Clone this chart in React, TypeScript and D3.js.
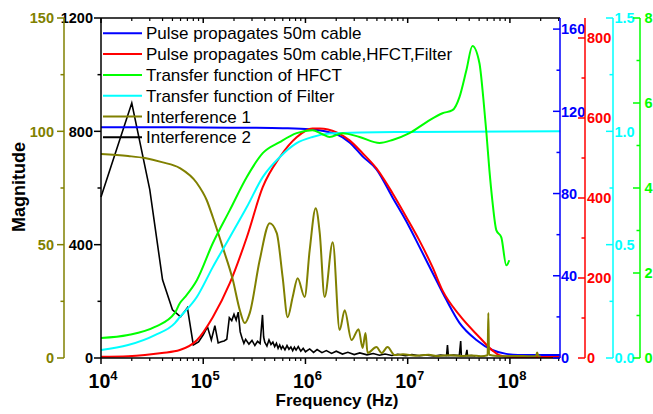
import * as d3 from 'd3'

// frequency axis (Hz), log scale
const FREQ_DOMAIN = [1e4, 10 ** 8.49]
const freqMajor = [1e4, 1e5, 1e6, 1e7, 1e8]
const freqExp = ['4', '5', '6', '7', '8']

// y axes: domains and tick labels
const oliveDomain = [0, 150], oliveTicks = [0, 50, 100, 150], oliveMinor = [25, 75, 125]
const blackDomain = [0, 1200], blackTicks = [0, 400, 800, 1200], blackMinor = [200, 600, 1000]
const blueDomain = [0, 165.4], blueTicks = [0, 40, 80, 120, 160], blueMinor = [20, 60, 100, 140]
const redDomain = [0, 850], redTicks = [0, 200, 400, 600, 800], redMinor = [100, 300, 500, 700]
const cyanDomain = [0, 1.5], cyanTicks = [0, 0.5, 1.0, 1.5], cyanMinor = [0.25, 0.75, 1.25]
const greenDomain = [0, 8], greenTicks = [0, 2, 4, 6, 8], greenMinor = [1, 3, 5, 7]

// series: [frequency Hz, value]
const pulseCable: [number, number][] = [
  [1e4, 112.3], [3e4, 112.3], [1e5, 112.1], [3e5, 112], [6e5, 111.8], [1.1e6, 111.3],
  [2.02e6, 108.8], [2.7e6, 104.9], [3.62e6, 98.1], [4.95e6, 91.8], [7.11e6, 78.1],
  [9.72e6, 66.4], [1.3e7, 54.2], [1.75e7, 41.5], [2.39e7, 28.3], [3.21e7, 17.1],
  [4.7e7, 8.8], [6.73e7, 3.9], [9.2e7, 2], [1.2e8, 1.5], [3.1e8, 1.5],
]
const pulseFiltered: [number, number][] = [
  [1e4, 3], [1.84e4, 4.5], [2.69e4, 7.5], [3.94e4, 12.5], [5.9e4, 20], [8.66e4, 44.5],
  [1.24e5, 102], [1.82e5, 187], [2.67e5, 302], [3.82e5, 427], [5.6e5, 502], [8.2e5, 552],
  [1.17e6, 574], [1.38e6, 574], [2.02e6, 564], [2.7e6, 544], [3.62e6, 512], [4.95e6, 474],
  [7.11e6, 412], [9.72e6, 352], [1.3e7, 294], [1.75e7, 227], [2.19e7, 169], [3.21e7, 107],
  [5.03e7, 52], [6.73e7, 19], [7.87e7, 7], [1.05e8, 2.5], [3.1e8, 2.5],
]
const hfct: [number, number][] = [
  [1e4, 0.47], [1.84e4, 0.54], [3.37e4, 0.73], [5.28e4, 1.06], [5.9e4, 1.29], [6.61e4, 1.43],
  [8.66e4, 1.83], [1.24e5, 2.7], [1.82e5, 3.48], [2.67e5, 4.26], [3.82e5, 4.82], [5.6e5, 5.08],
  [8.2e5, 5.29], [1.17e6, 5.36], [1.45e6, 5.27], [1.72e6, 5.2], [2.31e6, 5.29], [3.38e6, 5.2],
  [5.31e6, 5.06], [7.11e6, 5.13], [1.04e7, 5.29], [1.53e7, 5.55], [2.19e7, 5.76], [2.74e7, 5.83],
  [3.21e7, 6.14], [3.75e7, 6.77], [4.3e7, 7.34], [5.03e7, 6.94], [5.5e7, 6.1], [5.89e7, 5.3],
  [6.3e7, 4.42], [6.73e7, 3.71], [7.36e7, 3.01], [8.24e7, 2.84], [9.22e7, 2.18], [9.86e7, 2.3],
]
const filter: [number, number][] = [
  [1e4, 0.035], [1.84e4, 0.057], [3.37e4, 0.101], [5.28e4, 0.154], [5.9e4, 0.18],
  [8.66e4, 0.269], [1.24e5, 0.401], [1.82e5, 0.533], [2.67e5, 0.666], [3.82e5, 0.798],
  [5.6e5, 0.886], [8.2e5, 0.948], [1.17e6, 0.975], [1.72e6, 0.99], [3.38e6, 0.995],
  [1.04e7, 0.997], [3.1e8, 1.0],
]
const interference1: [number, number][] = [
  [1e4, 90], [1.84e4, 89.1], [2.69e4, 88.2], [3.94e4, 86.4], [5.9e4, 83.8], [8.66e4, 77.2],
  [1.08e5, 69.7], [1.24e5, 62.2], [1.55e5, 48.9], [1.95e5, 34.4], [2.28e5, 21.1], [2.55e5, 15.4],
  [2.85e5, 19.8], [3.57e5, 43.2], [4.47e5, 59.5], [5.24e5, 55.1], [5.98e5, 35.7], [6.7e5, 18],
  [7.5e5, 26.9], [8.39e5, 35.2], [9.82e5, 26.9], [1.1e6, 47.6], [1.26e6, 66.1], [1.38e6, 55.1],
  [1.54e6, 26.9], [1.85e6, 51.1], [2.16e6, 12.3], [2.42e6, 21.1], [2.82e6, 7.9], [3.31e6, 12.7],
  [3.62e6, 4.4], [3.87e6, 11], [4.05e6, 2.2], [4.95e6, 4.8], [5.55e6, 2.2], [6.35e6, 4.8],
  [7.43e6, 1.3], [9e6, 1.6], [1.2e7, 1], [1.6e7, 1.4], [2e7, 0.9], [2.6e7, 1.2], [3.3e7, 0.9],
  [4.2e7, 1.1], [5.2e7, 0.8], [6.05e7, 1.2], [6.15e7, 19.8], [6.25e7, 1.4], [7.5e7, 0.9],
  [9e7, 0.8], [1.2e8, 0.9], [1.5e8, 0.8], [1.8e8, 0.9], [1.85e8, 2.4], [1.9e8, 0.8], [2e8, 0.8],
]
const interference2: [number, number][] = [
  [1e4, 568], [2e4, 900], [3e4, 594], [4e4, 276], [5e4, 170], [6e4, 145], [7e4, 177], [8e4, 46],
  [9e4, 57], [1e5, 82], [1.1e5, 110], [1.2e5, 64], [1.3e5, 114], [1.4e5, 53], [1.5e5, 57],
  [1.6e5, 60], [1.7e5, 66], [1.8e5, 142], [1.9e5, 132], [2e5, 154], [2.1e5, 134], [2.2e5, 162],
  [2.3e5, 92], [2.4e5, 70], [2.5e5, 52], [2.6e5, 66], [2.8e5, 49], [3e5, 62], [3.2e5, 44],
  [3.4e5, 59], [3.6e5, 51], [3.8e5, 152], [3.9e5, 74], [4e5, 56], [4.2e5, 42], [4.4e5, 64],
  [4.6e5, 48], [4.8e5, 56], [5e5, 40], [5.2e5, 52], [5.4e5, 34], [5.6e5, 46], [5.8e5, 32],
  [6e5, 42], [6.3e5, 29], [6.6e5, 44], [6.9e5, 31], [7.2e5, 39], [7.5e5, 26], [7.8e5, 38],
  [8.1e5, 28], [8.5e5, 40], [9e5, 24], [9.5e5, 34], [1e6, 22], [1.1e6, 32], [1.2e6, 20],
  [1.3e6, 30], [1.45e6, 19], [1.6e6, 26], [1.8e6, 16], [2e6, 24], [2.3e6, 14], [2.6e6, 20],
  [3e6, 12], [3.4e6, 18], [4e6, 11], [4.6e6, 16], [5.3e6, 10], [6e6, 14], [7e6, 9], [8e6, 13],
  [9.5e6, 8], [1.1e7, 12], [1.3e7, 8], [1.5e7, 11], [1.8e7, 7], [2.1e7, 10], [2.4e7, 8],
  [2.45e7, 46], [2.5e7, 8], [2.8e7, 10], [3.2e7, 9], [3.3e7, 60], [3.35e7, 9], [3.7e7, 8],
  [3.8e7, 29], [3.85e7, 8], [4.2e7, 9], [4.6e7, 7],
]

const legendNames = [
  'Pulse propagates 50m cable',
  'Pulse propagates 50m cable,HFCT,Filter',
  'Transfer function of HFCT',
  'Transfer function of Filter',
  'Interference 1',
  'Interference 2',
]
const legendColors = ['#0000ff', '#ff0000', '#00ff00', '#00ffff', '#808000', '#000000']

const FONT = '"Liberation Sans", Arial, sans-serif'
const width = 653, height = 414
const m = { left: 101, right: 560, top: 18, bottom: 358 }

function YAxis({ scale, x, ticks, minor, color, side, fmt, labelGap }: any) {
  const [y0, y1] = scale.range()
  return (
    <g>
      <line x1={x} x2={x} y1={y0} y2={y1} stroke={color} strokeWidth={1.5} />
      {ticks.map((t: number) => (
        <g key={'M' + t}>
          <line x1={x - 7} x2={x} y1={scale(t)} y2={scale(t)} stroke={color} strokeWidth={1.5} />
          <text
            x={side === 'left' ? x - labelGap : x + labelGap}
            y={scale(t)}
            dy="0.36em"
            textAnchor={side === 'left' ? 'end' : 'start'}
            fill={color}
            fontSize={14.5}
            fontWeight="bold"
            fontFamily={FONT}
          >{fmt ? fmt(t) : t}</text>
        </g>
      ))}
      {minor.map((t: number) => (
        <line key={'m' + t} x1={x - 3.5} x2={x} y1={scale(t)} y2={scale(t)} stroke={color} strokeWidth={1.5} />
      ))}
    </g>
  )
}

export default function App() {
  const x = d3.scaleLog().domain(FREQ_DOMAIN).range([m.left, m.right])
  const yOlive = d3.scaleLinear().domain(oliveDomain).range([m.bottom, m.top])
  const yBlack = d3.scaleLinear().domain(blackDomain).range([m.bottom, m.top])
  const yBlue = d3.scaleLinear().domain(blueDomain).range([m.bottom, m.top])
  const yRed = d3.scaleLinear().domain(redDomain).range([m.bottom, m.top])
  const yCyan = d3.scaleLinear().domain(cyanDomain).range([m.bottom, m.top])
  const yGreen = d3.scaleLinear().domain(greenDomain).range([m.bottom, m.top])

  const mk = (y: any, smooth: boolean) =>
    d3.line<[number, number]>()
      .x(d => x(d[0]))
      .y(d => y(d[1]))
      .curve(smooth ? d3.curveMonotoneX : d3.curveLinear)

  // minor ticks of the log axis
  const minorTicks: number[] = []
  for (let e = 4; e <= 8; e++) {
    for (let k = 2; k <= 9; k++) {
      const v = k * 10 ** e
      if (v <= FREQ_DOMAIN[1]) minorTicks.push(v)
    }
  }

  return (
    <svg width={width} height={height} style={{ position: 'absolute', left: 0, top: 0, background: '#fff' }}>
      <rect width={width} height={height} fill="#fff" />

      {/* data */}
      <path d={mk(yBlack, false)(interference2)!} fill="none" stroke="#000" strokeWidth={1.6} />
      <path d={mk(yBlue, true)(pulseCable)!} fill="none" stroke="#0000ff" strokeWidth={2} />
      <path d={mk(yRed, true)(pulseFiltered)!} fill="none" stroke="#ff0000" strokeWidth={2} />
      <path d={mk(yOlive, true)(interference1)!} fill="none" stroke="#808000" strokeWidth={2} />
      <path d={mk(yCyan, true)(filter)!} fill="none" stroke="#00ffff" strokeWidth={2} />
      <path d={mk(yGreen, true)(hfct)!} fill="none" stroke="#00ff00" strokeWidth={2} />

      {/* frame: top and bottom */}
      <line x1={m.left} x2={m.right} y1={m.top} y2={m.top} stroke="#000" strokeWidth={1.5} />
      <line x1={m.left} x2={m.right} y1={m.bottom} y2={m.bottom} stroke="#000" strokeWidth={1.5} />
      {freqMajor.map((f, i) => (
        <g key={f}>
          <line x1={x(f)} x2={x(f)} y1={m.bottom} y2={m.bottom + 6} stroke="#000" strokeWidth={1.5} />
          <line x1={x(f)} x2={x(f)} y1={m.top} y2={m.top + 5} stroke="#000" strokeWidth={1.5} />
          <text x={x(f) + 2} y={388} textAnchor="middle" fontFamily={FONT} fontWeight="bold" fontSize={19.5}>
            10<tspan dy={-8} fontSize={13}>{freqExp[i]}</tspan>
          </text>
        </g>
      ))}
      {minorTicks.map(f => (
        <g key={'mn' + f}>
          <line x1={x(f)} x2={x(f)} y1={m.bottom} y2={m.bottom + 3} stroke="#000" strokeWidth={1.2} />
          <line x1={x(f)} x2={x(f)} y1={m.top} y2={m.top + 3} stroke="#000" strokeWidth={1.2} />
        </g>
      ))}
      <text x={337} y={406} textAnchor="middle" fontFamily={FONT} fontWeight="bold" fontSize={17}>Frequency (Hz)</text>

      {/* left axes */}
      <YAxis scale={yBlack} x={m.left} ticks={blackTicks} minor={blackMinor} color="#000" side="left" labelGap={8} />
      <YAxis scale={yOlive} x={64} ticks={oliveTicks} minor={oliveMinor} color="#808000" side="left" labelGap={10} />
      <text transform="translate(25,187) rotate(-90)" textAnchor="middle" fontFamily={FONT} fontWeight="bold" fontSize={18}>Magnitude</text>

      {/* right axes */}
      <YAxis scale={yBlue} x={560} ticks={blueTicks} minor={blueMinor} color="#0000ff" side="right" labelGap={1} />
      <YAxis scale={yRed} x={585} ticks={redTicks} minor={redMinor} color="#ff0000" side="right" labelGap={2} />
      <YAxis scale={yCyan} x={613} ticks={cyanTicks} minor={cyanMinor} color="#00ffff" side="right" labelGap={1.5} fmt={(v: number) => v.toFixed(1)} />
      <YAxis scale={yGreen} x={640} ticks={greenTicks} minor={greenMinor} color="#00ff00" side="right" labelGap={4.5} />

      {/* legend */}
      {legendNames.map((name, i) => {
        const ly = 33.3 + i * 20.8
        return (
          <g key={name}>
            <line x1={103} x2={142} y1={ly} y2={ly} stroke={legendColors[i]} strokeWidth={2} />
            <text x={146} y={ly} dy="0.36em" fontFamily={FONT} fontSize={17}>{name}</text>
          </g>
        )
      })}
    </svg>
  )
}
